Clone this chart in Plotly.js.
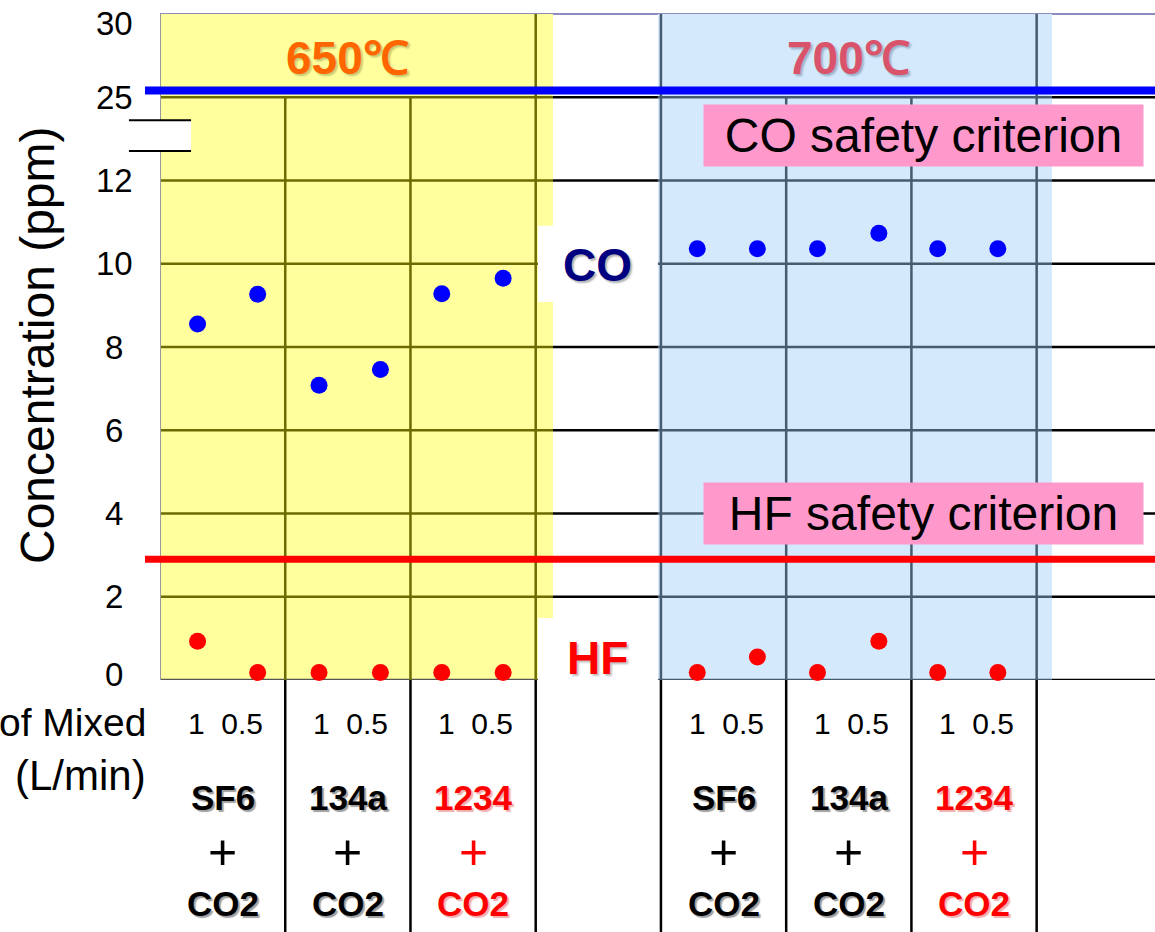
<!DOCTYPE html>
<html>
<head>
<meta charset="utf-8">
<script src="https://cdn.plot.ly/plotly-3.0.1.min.js"></script>
<style>
  html, body { margin: 0; padding: 0; background: #ffffff; }
  #chart { width: 1155px; height: 932px; }
</style>
</head>
<body>
<div id="chart"></div>
<script>
// ---------------- DATA ----------------
const temperatures = ['650℃', '700℃'];
const gasLabels = ['SF6', '134a', '1234', 'SF6', '134a', '1234'];
const gasColors = ['#000000', '#000000', '#ff0000', '#000000', '#000000', '#ff0000'];
const gasSlots = [0, 1, 2, 4, 5, 6];              // category slot of each gas group
const flowLabel = '1  0.5';                       // flow rate of mixed gas (L/min)
const pointSlots = [0.30, 0.78, 1.27, 1.76, 2.25, 2.74, 4.29, 4.77, 5.25, 5.74, 6.21, 6.69];
const coPpm = [8.55, 9.27, 7.08, 7.46, 9.28, 9.65, 10.36, 10.36, 10.36, 10.73, 10.36, 10.36];
const hfPpm = [0.93, 0.18, 0.18, 0.18, 0.18, 0.18, 0.18, 0.55, 0.18, 0.93, 0.18, 0.18];
const coLimit = 25.4;
const hfLimit = 2.9;
const yTickPpm = [0, 2, 4, 6, 8, 10, 12, 25, 30];
const yGridPpm = [0, 2, 4, 6, 8, 10, 12, 25];

// ---------------- broken y scale ----------------
function yp(v) { return v <= 12 ? v : 14 + (v - 25) / 2.5; }

const FONT = 'Liberation Sans, Arial, sans-serif';
const OLIVE = '#6b6b00', SLATE = '#475b6f', BLACK = '#000000';
const XMAX = 7.945;
const xYellow = [0, 3.138], xGap = [3.138, 3.976], xBlue = [3.976, 7.122], xRight = [7.122, XMAX];

const shapes = [];
// shaded temperature regions
shapes.push({type: 'rect', xref: 'x', yref: 'y', x0: xYellow[0], x1: xYellow[1], y0: 0, y1: 16,
  fillcolor: '#ffff9e', line: {width: 0}, layer: 'below'});
shapes.push({type: 'rect', xref: 'x', yref: 'y', x0: xBlue[0], x1: xBlue[1], y0: 0, y1: 16,
  fillcolor: '#d5e9fc', line: {width: 0}, layer: 'below'});

// horizontal grid lines, coloured by region
yGridPpm.forEach(v => {
  const y = yp(v);
  [[xYellow, v === 0 ? '#555555' : OLIVE], [xGap, BLACK], [xBlue, SLATE], [xRight, BLACK]].forEach(([seg, col]) => {
    shapes.push({type: 'line', xref: 'x', yref: 'y', x0: seg[0], x1: seg[1], y0: y, y1: y,
      line: {color: col, width: 2.5}, layer: 'below'});
  });
});
// top border
shapes.push({type: 'line', xref: 'x', yref: 'paper', x0: 0, x1: XMAX, y0: 1, y1: 1,
  line: {color: '#8c8cc0', width: 2}, layer: 'below'});

// white label boxes for CO / HF
shapes.push({type: 'rect', xref: 'x', yref: 'y', x0: 3.018, x1: 3.976, y0: 9.08, y1: 10.91,
  fillcolor: '#ffffff', line: {width: 0}, layer: 'below'});
shapes.push({type: 'rect', xref: 'x', yref: 'y', x0: 3.018, x1: 3.976, y0: -0.5, y1: 1.49,
  fillcolor: '#ffffff', line: {width: 0}, layer: 'below'});

// vertical dividers
for (let i = 0; i <= 7; i++) {
  const inYellow = i <= 3;
  const col = i === 0 ? '#9a9a9a' : (inYellow ? OLIVE : SLATE);
  const full = (i === 0 || i === 3 || i === 4 || i === 7);
  shapes.push({type: 'line', xref: 'x', yref: 'y', x0: i, x1: i, y0: 0, y1: full ? 16 : yp(25),
    line: {color: col, width: i === 0 ? 2 : 2.5}, layer: 'below'});
  if (i > 0) {
    shapes.push({type: 'line', xref: 'x', yref: 'paper', x0: i, x1: i, y0: 0, y1: -0.38,
      line: {color: BLACK, width: 2.5}, layer: 'below'});
  }
}

// axis break marks (drawn above the shaded region)
shapes.push({type: 'rect', xref: 'paper', yref: 'y', x0: -0.0312, x1: 0.0312, y0: 12.71, y1: 13.45,
  fillcolor: '#ffffff', line: {width: 0}, layer: 'above'});
[12.71, 13.45].forEach(y => shapes.push({type: 'line', xref: 'paper', yref: 'y', x0: -0.0312, x1: 0.0312,
  y0: y, y1: y, line: {color: BLACK, width: 2}, layer: 'above'}));

// safety criterion lines
shapes.push({type: 'line', xref: 'paper', yref: 'y', x0: -0.0151, x1: 1, y0: yp(coLimit), y1: yp(coLimit),
  line: {color: '#0000ff', width: 8}, layer: 'above'});
shapes.push({type: 'line', xref: 'paper', yref: 'y', x0: -0.0151, x1: 1, y0: yp(hfLimit), y1: yp(hfLimit),
  line: {color: '#ff0000', width: 7}, layer: 'above'});

// ---------------- annotations ----------------
const ann = [];
// y tick labels (centred, as in the original)
yTickPpm.forEach(v => {
  ann.push({xref: 'paper', yref: 'y', x: -0.0462, y: yp(v), text: String(v), showarrow: false,
    xanchor: 'center', yanchor: 'middle', yshift: v === 30 ? -9 : (v === 0 ? 6 : 0),
    font: {family: FONT, size: 33, color: '#000'}});
});
// y title
ann.push({xref: 'paper', yref: 'paper', x: -0.1236, y: 0.503, text: 'Concentration (ppm)', textangle: -90,
  showarrow: false, xanchor: 'center', yanchor: 'middle', font: {family: FONT, size: 48, color: '#000'}});
// x-axis side labels
ann.push({xref: 'paper', yref: 'paper', x: -0.0125, y: -0.0645, text: 'of Mixed', showarrow: false,
  xanchor: 'right', yanchor: 'middle', font: {family: FONT, size: 39, color: '#000'}});
ann.push({xref: 'paper', yref: 'paper', x: -0.0125, y: -0.143, text: '(L/min)', showarrow: false,
  xanchor: 'right', yanchor: 'middle', font: {family: FONT, size: 42, color: '#000'}});
// group labels
gasLabels.forEach((g, i) => {
  const x = gasSlots[i] + 0.5, c = gasColors[i];
  const sh = c === '#000000' ? '2px 2px 1px #a0a0a0' : '2px 2px 1px #f0b0b0';
  ann.push({xref: 'x', yref: 'paper', x: x + 0.02, y: -0.065, text: flowLabel, showarrow: false,
    xanchor: 'center', yanchor: 'middle', font: {family: FONT, size: 30, color: '#000'}});
  ann.push({xref: 'x', yref: 'paper', x: x, y: -0.176, text: '<b>' + g + '</b>', showarrow: false,
    xanchor: 'center', yanchor: 'middle', font: {family: FONT, size: 35, color: c, shadow: sh}});
  ann.push({xref: 'x', yref: 'paper', x: x, y: -0.259, text: '+', showarrow: false,
    xanchor: 'center', yanchor: 'middle', font: {family: FONT, size: 50, color: c}});
  ann.push({xref: 'x', yref: 'paper', x: x, y: -0.335, text: '<b>CO2</b>', showarrow: false,
    xanchor: 'center', yanchor: 'middle', font: {family: FONT, size: 35, color: c, shadow: sh}});
});
// temperatures
ann.push({xref: 'x', yref: 'y', x: 1.497, y: 14.955, text: '<b>' + temperatures[0] + '</b>', showarrow: false,
  xanchor: 'center', yanchor: 'middle', font: {family: FONT, size: 46, color: '#ff6600', shadow: '2px 2px 2px #c8c870'}});
ann.push({xref: 'x', yref: 'y', x: 5.498, y: 14.955, text: '<b>' + temperatures[1] + '</b>', showarrow: false,
  xanchor: 'center', yanchor: 'middle', font: {family: FONT, size: 46, color: '#d9536a', shadow: '2px 2px 2px #9ab0c8'}});
// CO / HF labels
ann.push({xref: 'x', yref: 'y', x: 3.497, y: 9.97, text: '<b>CO</b>', showarrow: false,
  xanchor: 'center', yanchor: 'middle', font: {family: FONT, size: 46, color: '#000080', shadow: '2px 2px 2px #b0b0b0'}});
ann.push({xref: 'x', yref: 'y', x: 3.497, y: 0.53, text: '<b>HF</b>', showarrow: false,
  xanchor: 'center', yanchor: 'middle', font: {family: FONT, size: 46, color: '#ff0000', shadow: '2px 2px 2px #c0c0c0'}});
// safety criterion boxes
ann.push({xref: 'x', yref: 'y', x: 6.096, y: 13.08, text: 'CO safety criterion', showarrow: false,
  xanchor: 'center', yanchor: 'middle', width: 439, height: 61, borderpad: 0, bgcolor: '#ff99cc',
  font: {family: FONT, size: 48, color: '#000'}});
ann.push({xref: 'x', yref: 'y', x: 6.096, y: 4.0, text: 'HF safety criterion', showarrow: false,
  xanchor: 'center', yanchor: 'middle', width: 439, height: 61, borderpad: 0, bgcolor: '#ff99cc',
  font: {family: FONT, size: 48, color: '#000'}});

// ---------------- traces ----------------
const traces = [
  {type: 'scatter', mode: 'markers', name: 'CO', x: pointSlots, y: coPpm.map(yp),
   marker: {color: '#0000ff', size: 17}, hoverinfo: 'skip', cliponaxis: false},
  {type: 'scatter', mode: 'markers', name: 'HF', x: pointSlots, y: hfPpm.map(yp),
   marker: {color: '#ff0000', size: 17}, hoverinfo: 'skip', cliponaxis: false}
];

const layout = {
  width: 1155, height: 932,
  margin: {l: 160, r: 0, t: 14, b: 252},
  paper_bgcolor: '#ffffff', plot_bgcolor: '#ffffff',
  showlegend: false,
  xaxis: {range: [0, XMAX], showgrid: false, zeroline: false, showticklabels: false, showline: false, ticks: '', fixedrange: true},
  yaxis: {range: [0, 16], showgrid: false, zeroline: false, showticklabels: false, showline: false, ticks: '',
          tickvals: yTickPpm.map(yp), ticktext: yTickPpm.map(String), fixedrange: true},
  shapes: shapes,
  annotations: ann
};

Plotly.newPlot('chart', traces, layout, {displayModeBar: false, staticPlot: true});
</script>
</body>
</html>
